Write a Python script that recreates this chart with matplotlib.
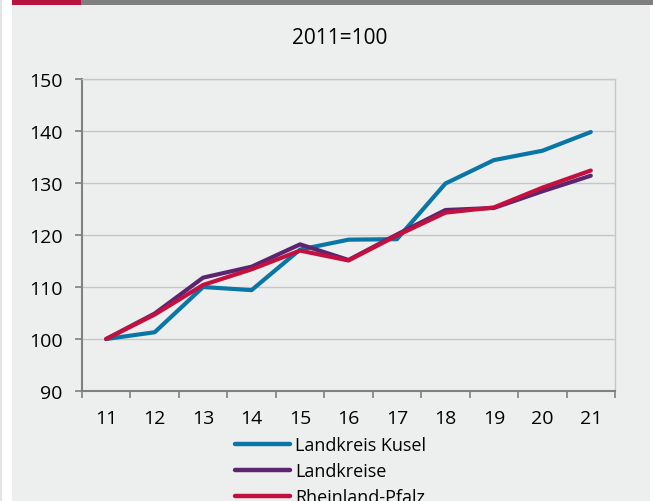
import matplotlib
matplotlib.use("Agg")
import matplotlib.pyplot as plt
from matplotlib.patches import Rectangle

# Index 2011=100
years = ["11", "12", "13", "14", "15", "16", "17", "18", "19", "20", "21"]
kusel = [100, 101.3, 110.0, 109.4, 117.2, 119.1, 119.2, 129.9, 134.4, 136.2, 139.8]
landkreise = [100, 104.9, 111.8, 113.9, 118.2, 115.2, 120.1, 124.8, 125.2, 128.4, 131.4]
rlp = [100, 104.7, 110.4, 113.4, 117.0, 115.1, 119.9, 124.3, 125.3, 129.1, 132.4]
series_names = ["Landkreis Kusel", "Landkreise", "Rheinland-Pfalz"]
y_ticks = [90, 100, 110, 120, 130, 140, 150]

colors = ["#0a76a6", "#5b2670", "#c4103f"]
panel = "#edeeee"

plt.rcParams["font.family"] = ["Open Sans", "DejaVu Sans"]

W, H = 653, 502
fig = plt.figure(figsize=(W / 100, H / 100), dpi=100)
fig.patch.set_facecolor("white")


def px_rect(x0, y0, x1, y1, color):
    # rectangle given in pixel coords, origin top-left
    fig.add_artist(Rectangle((x0 / W, 1 - y1 / H), (x1 - x0) / W, (y1 - y0) / H,
                             transform=fig.transFigure, facecolor=color,
                             edgecolor="none", zorder=0))


px_rect(0, 0, 2, H, "#e4e4e4")
px_rect(12, 0, 650, H, panel)
px_rect(12, 0, 81, 6, "#b8123e")
px_rect(81, 0, W, 6, "#7f7f7f")

ax = fig.add_axes([82 / W, 1 - 392 / H, (615 - 82) / W, (392 - 80) / H])
ax.set_facecolor(panel)

x = list(range(len(years)))
for vals, name, c in zip([kusel, landkreise, rlp], series_names, colors):
    ax.plot(x, vals, color=c, lw=3.0, label=name, solid_capstyle="round", zorder=3)

ax.set_ylim(90, 150)
ax.set_yticks(y_ticks)
ax.set_xlim(-0.5, len(years) - 0.5)
ax.set_xticks(x)
ax.set_xticklabels(years)
ax.set_xticks([i - 0.5 for i in range(len(years) + 1)], minor=True)

ax.grid(axis="y", color="#c6c6c6", lw=1.0, zorder=1)
ax.set_axisbelow(True)
for side in ["top", "right"]:
    ax.spines[side].set_color("#c6c6c6")
    ax.spines[side].set_linewidth(1.0)
for side in ["left", "bottom"]:
    ax.spines[side].set_color("#808080")
    ax.spines[side].set_linewidth(1.5)

ax.tick_params(axis="y", length=5, width=1.2, color="#808080", pad=9, labelsize=14)
ax.tick_params(axis="x", which="major", length=0, pad=13, labelsize=14)
ax.tick_params(axis="x", which="minor", length=5, width=1.2, color="#808080")

fig.text(340 / W, 1 - 39 / H, "2011=100", ha="center", va="center", fontsize=15)

# legend sits below the axes; last row runs into the bottom edge
leg = ax.legend(loc="upper left", bbox_to_anchor=(235 / W, 1 - 437 / H),
                bbox_transform=fig.transFigure, frameon=False, fontsize=13,
                handlelength=3.05, handletextpad=0.28, labelspacing=0.45,
                borderaxespad=0, borderpad=0)
for line in leg.get_lines():
    line.set_linewidth(3.2)
    line.set_solid_capstyle("round")

fig.savefig("out.png", dpi=100, facecolor="white")
